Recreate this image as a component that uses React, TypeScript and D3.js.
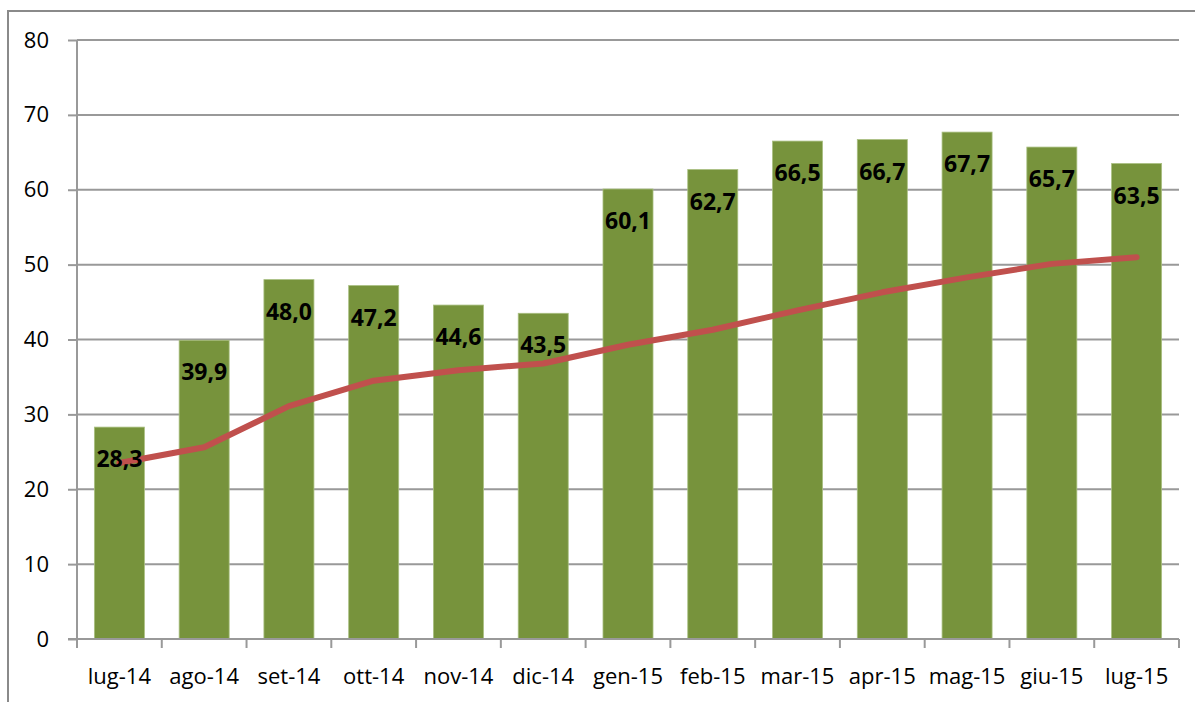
import * as d3 from "d3";
import { useEffect, useRef } from "react";

const months = [
  "lug-14", "ago-14", "set-14", "ott-14", "nov-14", "dic-14", "gen-15",
  "feb-15", "mar-15", "apr-15", "mag-15", "giu-15", "lug-15",
];
const barValues = [28.3, 39.9, 48.0, 47.2, 44.6, 43.5, 60.1, 62.7, 66.5, 66.7, 67.7, 65.7, 63.5];
const lineValues = [23.5, 25.6, 31.1, 34.5, 35.9, 36.8, 39.3, 41.3, 43.9, 46.3, 48.3, 50.1, 51.0];
const yTicks = [0, 10, 20, 30, 40, 50, 60, 70, 80];

const width = 1195;
const height = 702;
const margin = { top: 40, right: 16, bottom: 63, left: 77 };
const font = "'Open Sans', sans-serif";

export default function App() {
  const svgRef = useRef<SVGSVGElement | null>(null);

  useEffect(() => {
    if (!svgRef.current) return;
    drawChart(svgRef.current);
  }, []);

  return (
    <svg
      ref={svgRef}
      width={width}
      height={height}
      style={{ position: "absolute", left: 0, top: 0, background: "#fff" }}
    />
  );
}

function drawChart(svgElement: SVGSVGElement) {
  const svg = d3.select(svgElement);
  svg.selectAll("*").remove();

  const plotRight = width - margin.right;
  const plotBottom = height - margin.bottom;

  const x = d3
    .scaleBand<string>()
    .domain(months)
    .range([margin.left, plotRight])
    .paddingInner(0.41)
    .paddingOuter(0.205);
  const xCenter = d3.scaleBand<string>().domain(months).range([margin.left, plotRight]);
  const y = d3.scaleLinear().domain([0, 80]).range([plotBottom, margin.top]);

  // outer frame
  svg
    .append("path")
    .attr("d", `M8,${height} V11 H${width}`)
    .attr("fill", "none")
    .attr("stroke", "#8a8a8a")
    .attr("stroke-width", 2);

  // gridlines
  svg
    .append("g")
    .selectAll("line")
    .data(yTicks.filter((t) => t > 0))
    .join("line")
    .attr("x1", margin.left)
    .attr("x2", plotRight)
    .attr("y1", (t) => y(t))
    .attr("y2", (t) => y(t))
    .attr("stroke", "#999999")
    .attr("stroke-width", 2);

  // y axis
  const yAxis = svg.append("g").attr("transform", `translate(${margin.left},0)`);
  yAxis.call(d3.axisLeft(y).tickValues(yTicks).tickSize(9).tickPadding(19).tickFormat(d3.format("d")));
  yAxis.select(".domain").attr("stroke", "#999999").attr("stroke-width", 2).attr("d", `M0,${y(0)}V${y(80)}`);
  yAxis.selectAll(".tick line").attr("stroke", "#999999").attr("stroke-width", 2);
  yAxis
    .selectAll(".tick text")
    .attr("fill", "#000")
    .style("font-family", font)
    .style("font-size", "22px");

  // bars
  svg
    .append("g")
    .selectAll("rect")
    .data(barValues)
    .join("rect")
    .attr("x", (_, i) => x(months[i]) as number)
    .attr("y", (d) => y(d))
    .attr("width", x.bandwidth())
    .attr("height", (d) => y(0) - y(d))
    .attr("fill", "#77933c")
    .attr("stroke", "#a9bf80")
    .attr("stroke-width", 0.8);

  // x axis
  const xAxisLine = svg.append("g");
  xAxisLine
    .append("line")
    .attr("x1", margin.left - 9)
    .attr("x2", plotRight)
    .attr("y1", y(0))
    .attr("y2", y(0))
    .attr("stroke", "#999999")
    .attr("stroke-width", 2);
  const boundaries = d3.range(months.length + 1).map((i) => margin.left + i * xCenter.step());
  xAxisLine
    .selectAll(".xtick")
    .data(boundaries)
    .join("line")
    .attr("class", "xtick")
    .attr("x1", (d) => d)
    .attr("x2", (d) => d)
    .attr("y1", y(0))
    .attr("y2", y(0) + 9)
    .attr("stroke", "#999999")
    .attr("stroke-width", 2);
  xAxisLine
    .selectAll(".xlabel")
    .data(months)
    .join("text")
    .attr("class", "xlabel")
    .attr("x", (d) => (xCenter(d) as number) + xCenter.bandwidth() / 2)
    .attr("y", 684)
    .attr("text-anchor", "middle")
    .attr("fill", "#000")
    .style("font-family", font)
    .style("font-size", "22px")
    .text((d) => d);

  // line
  const line = d3
    .line<number>()
    .x((_, i) => (xCenter(months[i]) as number) + xCenter.bandwidth() / 2)
    .y((d) => y(d));
  svg
    .append("path")
    .datum(lineValues)
    .attr("d", line)
    .attr("fill", "none")
    .attr("stroke", "#c0504d")
    .attr("stroke-width", 6)
    .attr("stroke-linecap", "round")
    .attr("stroke-linejoin", "round");

  // data labels
  const fmt = (v: number) => v.toFixed(1).replace(".", ",");
  svg
    .append("g")
    .selectAll("text")
    .data(barValues)
    .join("text")
    .attr("x", (_, i) => (xCenter(months[i]) as number) + xCenter.bandwidth() / 2)
    .attr("y", (d) => y(d) + 40)
    .attr("text-anchor", "middle")
    .attr("fill", "#000")
    .style("font-family", font)
    .style("font-size", "23px")
    .style("font-weight", "700")
    .text((d) => fmt(d));
}
